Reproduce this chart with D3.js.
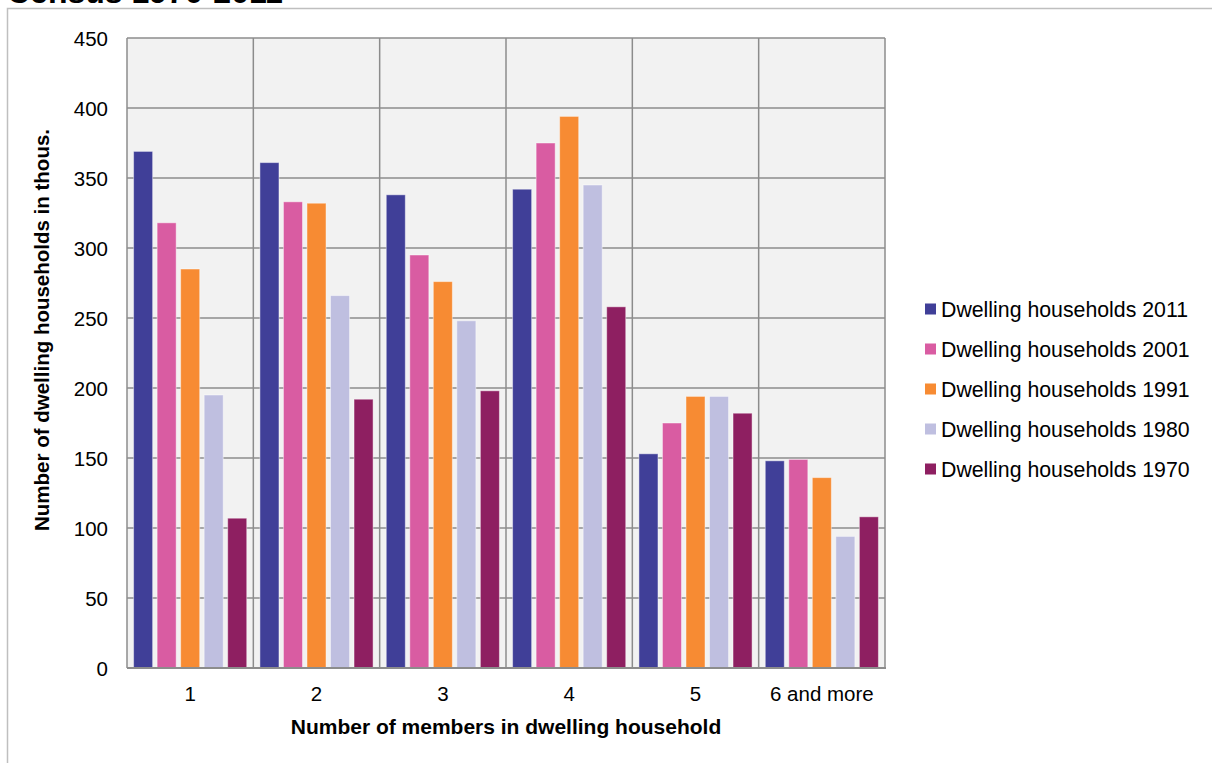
<!DOCTYPE html>
<html>
<head>
<meta charset="utf-8">
<script src="https://cdn.jsdelivr.net/npm/d3@7/dist/d3.min.js"></script>
<style>
  html, body { margin: 0; padding: 0; background: #fff; }
  svg { display: block; font-family: "Liberation Sans", Arial, sans-serif; }
</style>
</head>
<body>
<svg id="chart" width="1212" height="763"></svg>
<script>
// Household size categories and census series
const categories = ["1", "2", "3", "4", "5", "6 and more"];
const seriesNames = [
  "Dwelling households 2011",
  "Dwelling households 2001",
  "Dwelling households 1991",
  "Dwelling households 1980",
  "Dwelling households 1970"
];
const values2011 = [369, 361, 338, 342, 153, 148];
const values2001 = [318, 333, 295, 375, 175, 149];
const values1991 = [285, 332, 276, 394, 194, 136];
const values1980 = [195, 266, 248, 345, 194, 94];
const values1970 = [107, 192, 198, 258, 182, 108];
const yTicks = [0, 50, 100, 150, 200, 250, 300, 350, 400, 450];
const colors = ["#403f98", "#d95ca2", "#f78b33", "#bfbfe0", "#8e1f61"];

const seriesValues = [values2011, values2001, values1991, values1980, values1970];

const svg = d3.select("#chart");

// Outer frame and title running off the top edge
svg.append("text")
  .attr("x", 7).attr("y", 3)
  .attr("font-size", 32).attr("font-weight", "bold").attr("fill", "#000")
  .text("Census 1970-2011");
svg.append("path")
  .attr("d", "M7.5,763 V8.5 H1212")
  .attr("fill", "none").attr("stroke", "#bfbfbf").attr("stroke-width", 1.5);

const plot = { left: 127, right: 885, top: 38, bottom: 668 };

const x0 = d3.scaleBand().domain(categories).range([plot.left, plot.right]).padding(0);
const x1 = d3.scaleBand().domain(seriesNames).range([0, x0.bandwidth()])
  .paddingInner(0.19).paddingOuter(0.28);
const y = d3.scaleLinear().domain([0, 450]).range([plot.bottom, plot.top]);

// Plot background
svg.append("rect")
  .attr("x", plot.left).attr("y", plot.top)
  .attr("width", plot.right - plot.left).attr("height", plot.bottom - plot.top)
  .attr("fill", "#f2f2f2");

// Horizontal gridlines
svg.append("g").selectAll("line").data(yTicks).join("line")
  .attr("x1", plot.left).attr("x2", plot.right)
  .attr("y1", d => y(d)).attr("y2", d => y(d))
  .attr("stroke", "#8c8c8c").attr("stroke-width", 1.5);

// Vertical gridlines at category boundaries
const bounds = categories.map(c => x0(c)).concat([plot.right]);
svg.append("g").selectAll("line").data(bounds).join("line")
  .attr("x1", d => d).attr("x2", d => d)
  .attr("y1", plot.top).attr("y2", plot.bottom)
  .attr("stroke", "#8c8c8c").attr("stroke-width", 1.5);

// Bars
const groups = svg.append("g").selectAll("g").data(categories).join("g")
  .attr("transform", c => `translate(${x0(c)},0)`);
groups.selectAll("rect")
  .data((c, i) => seriesNames.map((s, k) => ({ s, k, v: seriesValues[k][i] })))
  .join("rect")
  .attr("x", d => x1(d.s))
  .attr("width", x1.bandwidth())
  .attr("y", d => y(d.v))
  .attr("height", d => y(0) - y(d.v))
  .attr("fill", d => colors[d.k])
  .attr("stroke", "rgba(255,255,255,0.45)").attr("stroke-width", 1);

// Bottom axis line
svg.append("line")
  .attr("x1", plot.left).attr("x2", plot.right + 1)
  .attr("y1", plot.bottom).attr("y2", plot.bottom)
  .attr("stroke", "#8c8c8c").attr("stroke-width", 2);

// Y axis
const yAxis = d3.axisLeft(y).tickValues(yTicks).tickSize(0).tickPadding(0);
const yg = svg.append("g").attr("transform", `translate(${plot.left - 19},0)`).call(yAxis);
yg.select(".domain").remove();
yg.selectAll("text").attr("font-size", 20.5).attr("fill", "#000")
  .attr("font-family", "Liberation Sans, Arial, sans-serif").attr("dy", "0.36em");

// X axis
const xAxis = d3.axisBottom(x0).tickSize(0).tickPadding(0);
const xg = svg.append("g").attr("transform", `translate(0,${plot.bottom + 33})`).call(xAxis);
xg.select(".domain").remove();
xg.selectAll("text").attr("font-size", 20.5).attr("fill", "#000")
  .attr("font-family", "Liberation Sans, Arial, sans-serif").attr("dy", 0);

// Axis titles
svg.append("text")
  .attr("x", (plot.left + plot.right) / 2).attr("y", 734)
  .attr("text-anchor", "middle").attr("font-size", 21).attr("font-weight", "bold")
  .text("Number of members in dwelling household");
svg.append("text")
  .attr("transform", `translate(49,${(plot.top + plot.bottom) / 2 - 23}) rotate(-90)`)
  .attr("text-anchor", "middle").attr("font-size", 20.5).attr("font-weight", "bold")
  .text("Number of dwelling households in thous.");

// Legend
const legend = svg.append("g").selectAll("g").data(seriesNames).join("g")
  .attr("transform", (d, i) => `translate(925,${309 + i * 40})`);
legend.append("rect")
  .attr("x", 0).attr("y", -5.5).attr("width", 11).attr("height", 11)
  .attr("fill", (d, i) => colors[i]);
legend.append("text")
  .attr("x", 16).attr("y", 0).attr("dy", "0.36em")
  .attr("font-size", 21.3).attr("fill", "#000")
  .text(d => d);
</script>
</body>
</html>
